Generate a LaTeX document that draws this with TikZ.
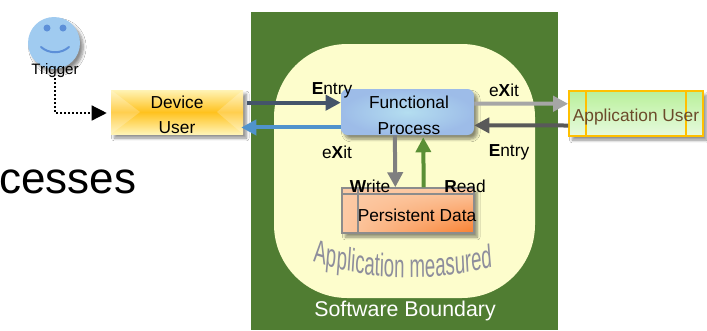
\documentclass[tikz,border=0pt]{standalone}
\usepackage{fontspec}
\setmainfont{Liberation Sans}
\usepackage{xcolor}
\usepackage{tikz}
\usetikzlibrary{calc,arrows.meta,shapes.geometric,shadows.blur,shadings,decorations.text}
\definecolor{boundary}{HTML}{507D32}
\definecolor{cream}{HTML}{FDFDCC}
\definecolor{entrydark}{HTML}{44546A}
\definecolor{exitblue}{HTML}{5093CC}
\definecolor{exitgrey}{HTML}{A6A6A6}
\definecolor{entrygrey}{HTML}{595959}
\definecolor{writegrey}{HTML}{7F7F7F}
\definecolor{readgreen}{HTML}{5A8F35}
\definecolor{gold}{HTML}{FFC000}
\definecolor{umber}{HTML}{6B4A2A}
\definecolor{measured}{HTML}{8E8E9C}
\definecolor{facemid}{HTML}{A0CBF0}
\definecolor{faceedge}{HTML}{7FAEDD}
\definecolor{facerim}{HTML}{4A78AE}
\definecolor{facedark}{HTML}{2F5C92}
\definecolor{facemark}{HTML}{5C8FD8}
\definecolor{fpcentre}{HTML}{B4DEF0}
\definecolor{fpouter}{HTML}{9DBCE8}
\definecolor{devpale}{HTML}{FFF3B5}
\definecolor{devgold}{HTML}{FFC21E}
\definecolor{apptop}{HTML}{B8F09A}
\definecolor{appbottom}{HTML}{E8FADF}
\definecolor{datapale}{HTML}{FCCAA5}
\definecolor{dataorange}{HTML}{F98030}
\pgfdeclareradialshading{smileyface}{\pgfpoint{0bp}{0bp}}{
  color(0bp)=(facemid); color(30bp)=(facemid); color(42bp)=(faceedge); color(47bp)=(facerim); color(50bp)=(facedark)}
\tikzset{
  lab/.style={font=\fontsize{13}{19}\selectfont, text=black, inner sep=0pt},
  soft/.style={blur shadow={shadow xshift=2.5pt, shadow yshift=-3pt, shadow opacity=45, shadow blur steps=6}},
  flow/.style={line width=3pt, -{Triangle[length=11.25pt,width=11.25pt]}},
}
\begin{document}
\begin{tikzpicture}[x=0.75pt,y=-0.75pt]
  \useasboundingbox[fill=white] (0,0) rectangle (707,330);

  \fill[boundary] (251,12) rectangle (558,330);
  \fill[cream, rounded corners=55pt] (274,44) rectangle (535,298);

  \node[lab, anchor=west, font=\fontsize{33}{36}\selectfont] (title) at (-1,182) {cesses};

  \node[circle, minimum size=39pt, inner sep=0pt, draw=none, shading=smileyface, soft] (face) at (54,43) {};
  \fill[facemark] (47,28) circle (3.5);
  \fill[facemark] (63,28) circle (3.5);
  \draw[facemark, line width=1.5pt, line cap=round] (41,47) .. controls (49,54) and (61,54) .. (69,47);
  \node[lab, font=\fontsize{11.3}{13}\selectfont] (trigger) at (55,71) {Trigger};

  \node[trapezium, trapezium left angle=73.5, trapezium right angle=106.5, trapezium stretches body,
    minimum width=99pt, minimum height=33pt, inner sep=0pt, draw=none, soft,
    top color=devpale, bottom color=devpale, middle color=devgold] (device) at (177,112) {};
  \fill[white, opacity=.22] (device.top left corner) -- (140,112) -- (device.bottom left corner) -- cycle;
  \fill[white, opacity=.22] (device.top right corner) -- (217,112) -- (device.bottom right corner) -- cycle;
  \node[lab, align=center] (devicelab) at (177,115) {Device\\User};

  \node[draw=none, rounded corners=5pt, minimum width=99.75pt, minimum height=34.5pt, inner sep=0pt,
    soft, inner color=fpcentre, outer color=fpouter] (fp) at (407.5,112) {};
  \node[lab, align=center, font=\fontsize{13}{19.5}\selectfont] (fplab) at (409,115) {Functional\\Process};

  \node[draw=writegrey!90!white, line width=1.1pt, minimum width=99pt, minimum height=33.75pt, inner sep=0pt, soft,
    shading=bilinear interpolation, upper left=datapale, upper right=datapale, lower left=datapale, lower right=dataorange] (data) at (408,210.5) {};
  \draw[writegrey!90!white, line width=1.1pt] (data.north west |- 0,194) -- (data.north east |- 0,194);
  \draw[writegrey!90!white, line width=1.1pt] (358,188) -- (358,233);
  \node[lab] (datalab) at (417,215) {Persistent Data};

  \node[draw=gold, line width=1.2pt, minimum width=100.5pt, minimum height=33.75pt, inner sep=0pt, soft,
    top color=apptop, bottom color=appbottom] (appuser) at (636,113.5) {};
  \draw[gold, line width=1.2pt] (586,91) -- (586,136);
  \draw[gold, line width=1.2pt] (686,91) -- (686,136);
  \node[lab, text=umber] (applab) at (636,117) {Application User};

  \draw[line width=1pt, dotted, -{Triangle[length=11.25pt,width=11.25pt]}] (trigger.south) |- ([xshift=-3pt]device.west |- 0,113);
  \draw[flow, entrydark] ([xshift=3pt,yshift=7pt]device.east) -- ([yshift=7pt]fp.west);
  \draw[flow, exitblue] ([yshift=-11.6pt]fp.west) -- ([xshift=-1.5pt,yshift=-11.6pt]device.east);
  \draw[flow, exitgrey] ([yshift=6.3pt]fp.east) -- ([yshift=7.3pt]appuser.west);
  \draw[flow, entrygrey] ([yshift=-9pt]appuser.west) -- ([yshift=-10pt]fp.east);
  \draw[flow, writegrey] ([xshift=-9.5pt]fp.south) -- ([xshift=-9.5pt]data.north);
  \draw[flow, readgreen] ([xshift=11.8pt]data.north) -- ([xshift=11.8pt,yshift=-1.5pt]fp.south);

  \node[lab] (entryleft) at (332,90) {\textbf{E}ntry};
  \node[lab] (exitright) at (504,90) {e\textbf{X}it};
  \node[lab] (exitleft) at (337,152) {e\textbf{X}it};
  \node[lab] (entryright) at (509,152) {\textbf{E}ntry};
  \node[lab] (writelab) at (370,186) {\textbf{W}rite};
  \node[lab] (readlab) at (465,186) {\textbf{R}ead};

  \begin{scope}[transform canvas={yscale=1.75}]
    \path[decorate, decoration={text along path, text align=center,
      text={|\fontsize{14}{16}\selectfont\color{measured}|Application measured}}]
      (316,150) .. controls (375,161) and (435,161) .. (490,153);
  \end{scope}

  \node[lab, text=white, font=\fontsize{16}{18}\selectfont] (boundarylab) at (405,311) {Software Boundary};
\end{tikzpicture}
\end{document}
